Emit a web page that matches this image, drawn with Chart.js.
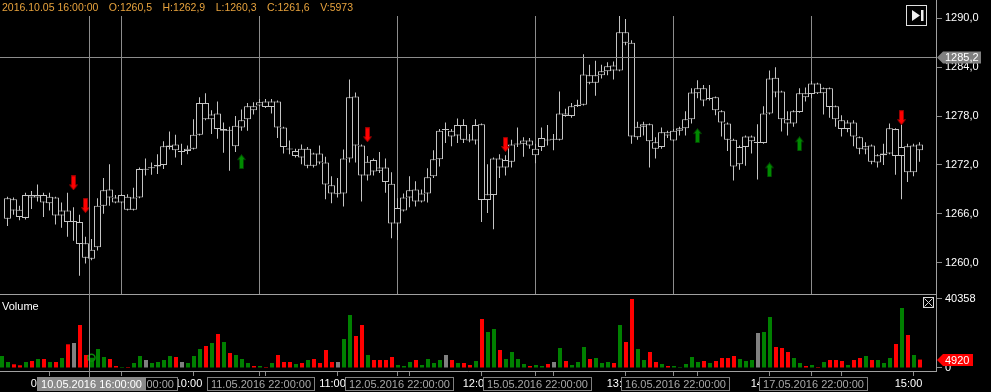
<!DOCTYPE html>
<html>
<head>
<meta charset="utf-8">
<title>Candles + volume</title>
<script src="https://cdn.jsdelivr.net/npm/chart.js@4.4.1/dist/chart.umd.min.js"></script>
<style>
  html, body { margin: 0; padding: 0; background: #000; overflow: hidden; }
  #wrap { position: relative; width: 991px; height: 392px; }
  #price-chart { position: absolute; left: 0; top: 0; }
  #volume-chart { position: absolute; left: 0; top: 284px; }
</style>
</head>
<body>
<div id="wrap">
  <canvas id="price-chart" width="991" height="301"></canvas>
  <canvas id="volume-chart" width="991" height="108"></canvas>
</div>
<script>
// ---- data (slot 0 has a volume bar but no candle) ----
const open = [null,
  1265.4, 1266.4, 1266.5, 1265.5, 1268.3, 1268.0, 1268.3, 1267.3, 1268.0, 1265.8,
  1266.4, 1265.0, 1265.0, 1262.4, 1260.5, 1261.9, 1267.0, 1269.0, 1268.0, 1267.4,
  1268.1, 1266.5, 1268.0, 1271.4, 1271.6, 1271.8, 1272.0, 1274.2, 1274.5, 1273.6,
  1273.7, 1274.0, 1275.7, 1279.6, 1277.6, 1278.3, 1276.2, 1276.3, 1274.3, 1276.6,
  1277.6, 1279.2, 1279.3, 1279.8, 1279.1, 1279.8, 1276.6, 1274.0, 1273.1, 1274.0,
  1271.9, 1273.4, 1273.4, 1272.3, 1269.5, 1268.4, 1268.5, 1272.8, 1280.4, 1274.4,
  1270.7, 1272.6, 1271.7, 1271.7, 1269.7, 1264.8, 1266.4, 1268.0, 1269.0, 1267.5,
  1268.5, 1270.6, 1272.7, 1276.3, 1276.2, 1275.6, 1276.9, 1275.1, 1275.0, 1277.0,
  1267.7, 1268.3, 1272.8, 1271.7, 1272.4, 1274.5, 1274.6, 1275.0, 1273.2, 1274.2,
  1275.1, 1275.1, 1275.1, 1278.3, 1278.0, 1279.2, 1279.4, 1283.0, 1282.1, 1283.0,
  1283.5, 1284.2, 1283.6, 1288.3, 1287.0, 1275.4, 1276.7, 1277.0, 1274.8, 1274.2,
  1276.0, 1275.0, 1276.2, 1276.5, 1277.6, 1280.8, 1281.4, 1280.1, 1280.3, 1278.6,
  1277.1, 1275.1, 1272.1, 1274.2, 1274.9, 1274.7, 1274.7, 1278.3, 1282.7, 1281.0,
  1277.6, 1277.1, 1278.5, 1280.8, 1280.7, 1282.0, 1280.8, 1281.4, 1279.2, 1277.5,
  1276.4, 1277.2, 1275.4, 1273.9, 1274.4, 1272.3, 1273.2, 1273.4, 1276.4, 1273.1,
  1274.3, 1271.1, 1274.5];
const high = [null,
  1268.1, 1268.0, 1267.0, 1268.6, 1268.8, 1269.6, 1268.6, 1268.6, 1268.1, 1267.4,
  1268.6, 1266.8, 1265.9, 1263.2, 1262.9, 1267.9, 1270.4, 1272.1, 1268.3, 1268.4,
  1268.4, 1269.2, 1271.7, 1272.8, 1272.3, 1273.3, 1274.9, 1276.1, 1275.7, 1274.6,
  1274.4, 1277.6, 1280.3, 1280.8, 1278.7, 1279.8, 1277.2, 1276.7, 1278.0, 1278.8,
  1279.6, 1279.7, 1280.1, 1280.1, 1280.1, 1279.9, 1276.7, 1275.0, 1274.0, 1274.5,
  1274.2, 1273.5, 1274.4, 1273.0, 1270.6, 1270.4, 1273.9, 1282.5, 1280.9, 1274.5,
  1273.1, 1272.8, 1273.6, 1272.8, 1271.1, 1267.9, 1268.5, 1270.6, 1270.0, 1269.0,
  1271.6, 1273.8, 1276.4, 1277.2, 1276.4, 1277.7, 1277.6, 1275.8, 1277.6, 1277.1,
  1272.1, 1272.9, 1273.3, 1273.2, 1275.1, 1276.6, 1275.4, 1275.3, 1274.6, 1276.6,
  1276.9, 1275.8, 1281.0, 1278.9, 1279.6, 1280.0, 1285.6, 1284.3, 1284.8, 1284.3,
  1284.6, 1284.7, 1290.5, 1289.9, 1287.3, 1277.3, 1277.3, 1277.1, 1275.4, 1276.6,
  1276.2, 1276.4, 1276.7, 1278.6, 1281.4, 1282.4, 1281.8, 1281.8, 1280.4, 1278.7,
  1277.2, 1275.2, 1274.4, 1275.6, 1275.6, 1277.0, 1279.2, 1283.6, 1284.0, 1281.1,
  1278.6, 1278.7, 1281.4, 1281.5, 1282.3, 1282.1, 1281.5, 1281.5, 1279.3, 1278.1,
  1277.5, 1277.5, 1275.5, 1274.8, 1274.5, 1273.3, 1274.6, 1277.1, 1276.5, 1277.0,
  1274.6, 1274.6, 1274.8];
const low = [null,
  1264.5, 1265.9, 1265.2, 1265.3, 1266.6, 1267.5, 1265.6, 1266.4, 1264.7, 1264.3,
  1263.2, 1262.7, 1258.4, 1259.9, 1260.3, 1261.5, 1266.0, 1267.0, 1267.3, 1267.3,
  1266.4, 1266.4, 1267.9, 1270.7, 1270.8, 1270.9, 1271.5, 1273.9, 1272.9, 1272.0,
  1273.3, 1273.9, 1275.6, 1277.5, 1275.8, 1275.2, 1273.5, 1271.3, 1273.6, 1276.2,
  1276.2, 1278.2, 1279.2, 1279.0, 1278.3, 1275.3, 1273.4, 1273.3, 1272.9, 1272.1,
  1271.6, 1271.7, 1272.1, 1267.8, 1267.3, 1268.0, 1266.9, 1272.3, 1272.3, 1267.5,
  1270.1, 1270.7, 1271.0, 1268.6, 1263.0, 1262.8, 1266.3, 1266.8, 1266.9, 1267.4,
  1267.4, 1270.4, 1271.8, 1274.7, 1274.3, 1274.7, 1274.7, 1274.8, 1274.5, 1265.0,
  1266.1, 1264.1, 1270.4, 1270.7, 1271.7, 1274.2, 1273.0, 1274.0, 1272.2, 1273.7,
  1274.4, 1273.8, 1275.0, 1277.9, 1277.8, 1279.1, 1279.3, 1281.9, 1280.5, 1282.6,
  1283.0, 1282.5, 1283.5, 1286.7, 1274.6, 1275.1, 1275.6, 1271.7, 1272.8, 1274.0,
  1275.3, 1274.9, 1275.6, 1275.6, 1277.1, 1280.2, 1279.2, 1279.9, 1278.1, 1275.5,
  1273.7, 1270.1, 1271.4, 1271.9, 1273.4, 1270.2, 1274.6, 1278.2, 1280.3, 1276.1,
  1275.6, 1276.7, 1278.4, 1279.8, 1280.2, 1280.7, 1278.2, 1277.8, 1276.7, 1275.5,
  1276.0, 1274.3, 1273.3, 1273.3, 1272.1, 1271.7, 1272.0, 1273.3, 1270.8, 1267.8,
  1269.9, 1270.6, 1272.4];
const close = [null,
  1267.9, 1267.8, 1265.6, 1268.3, 1268.0, 1268.3, 1267.4, 1268.1, 1265.8, 1266.4,
  1265.0, 1265.0, 1262.3, 1260.6, 1261.6, 1267.0, 1268.9, 1268.0, 1267.4, 1268.3,
  1266.5, 1268.0, 1271.5, 1271.4, 1271.7, 1272.0, 1274.3, 1274.4, 1273.8, 1273.6,
  1274.0, 1275.7, 1279.6, 1277.6, 1278.2, 1276.4, 1276.4, 1276.2, 1276.8, 1277.5,
  1279.2, 1278.7, 1279.7, 1279.1, 1279.8, 1276.6, 1274.2, 1273.9, 1273.7, 1272.9,
  1274.0, 1271.9, 1272.3, 1269.6, 1268.5, 1268.4, 1272.8, 1280.3, 1274.4, 1270.7,
  1272.4, 1271.2, 1271.3, 1269.9, 1264.8, 1266.7, 1268.0, 1268.9, 1267.5, 1268.5,
  1270.5, 1272.7, 1276.2, 1276.3, 1275.5, 1276.9, 1275.1, 1275.0, 1276.9, 1267.7,
  1268.4, 1272.8, 1271.7, 1272.6, 1274.5, 1274.6, 1275.0, 1274.4, 1274.0, 1275.3,
  1275.0, 1275.1, 1278.3, 1278.0, 1279.2, 1279.4, 1283.1, 1282.1, 1283.0, 1283.5,
  1284.1, 1283.6, 1288.3, 1287.0, 1275.5, 1276.7, 1277.0, 1274.9, 1274.0, 1276.0,
  1275.6, 1276.2, 1276.5, 1277.6, 1280.9, 1281.4, 1279.9, 1280.2, 1278.7, 1277.2,
  1275.1, 1271.8, 1274.2, 1275.5, 1275.5, 1274.7, 1278.3, 1282.6, 1280.9, 1277.6,
  1277.1, 1278.6, 1280.8, 1280.3, 1282.0, 1280.8, 1281.4, 1279.1, 1277.6, 1276.4,
  1277.2, 1275.5, 1274.0, 1274.3, 1272.4, 1273.2, 1273.4, 1276.5, 1273.1, 1274.2,
  1271.1, 1274.4, 1273.8];
const volume = [
   7020,  3510,  2160,  1580,  3510,  4100,  5270,  5270,  3510,  3510,
   5850, 13860, 14630, 25150,  7600,  5973, 11120,  6440,  5270,  1170,
    590,   590,  2930,  7020,  4680,  2930,  3510,  4680,  7020,  6440,
   3510,  2930,  7020, 11120, 12870, 14630, 19890, 15210,  8780,  7600,
   5270,  2930,  1170,  1170,   590,  2930,  7600,  3510,  3510,  2340,
   2930,  4680,  5270,  2930, 10530,  3510,  3510, 16970, 31010, 18720,
  25150,  7600,  4680,  4680,  4680,  6440,  1760,  1170,  3510,  4680,
   1760,  5270,  2930,  4680,  7600,  4680,  2930,  2930,  1760,  4100,
  28670, 21060, 22820, 10530,  5270,  9360,  5270,  2340,  1170,  1760,
   1170,  2340,  3510, 11700,  4100,  1760,  3510, 12290,  5270,  5850,
   2930,  3510,  2930, 25150, 15210, 40358, 11120,  4680,  9360,  3510,
   2340,  1170,  1170,   590,  2340,  6440,  3510,  4100,  2930,  4100,
   5850,  5850,  7020,  5270,  4100,  4680, 20480, 21060, 29840, 12290,
  11700,  9360,  5850,  2930,  1170,  1760,   590,  3510,  4680,  4680,
   4100,  1760,  4680,  5850,  7020,  4680,  4680,  2930,  5850, 14040,
  35100, 19310,  7600,  4920];
// u = up bar, d = down bar, n = unchanged
const volDir = ('uuddududud' + 'udndduuudd' + 'uduunuuuud' + 'nuuudududu' + 'uudududddu' +
                'duddddnuud' + 'dudddduuud' + 'uuuunduddu' + 'duuduuuudu' + 'udnuduuudu' +
                'uududduudd' + 'uduuuuudud' + 'ddduuunuud' + 'dduudududd' + 'dudduduuud' + 'udud').split('');

const priceTicks = [1260, 1266, 1272, 1278, 1284, 1290];
const volTicks = [0, 40358];
const hourIdx = [8, 32, 56, 80, 104, 128, 152];
const hourLabels = ['09:00', '10:00', '11:00', '12:00', '13:00', '14:00', '15:00'];
const dayIdx = [20, 43, 66, 89, 112, 135];
const dayLabels = ['10.05.2016 22:00:00', '11.05.2016 22:00:00', '12.05.2016 22:00:00',
                   '15.05.2016 22:00:00', '16.05.2016 22:00:00', '17.05.2016 22:00:00'];
const minorIdx = [44, 68, 92, 116, 140];
const sellIdx = [12, 14, 61, 84, 150];
const sellPrice = [1269.8, 1267.0, 1275.7, 1274.5, 1277.8];
const buyIdx = [40, 116, 128, 133];
const buyPrice = [1272.4, 1275.6, 1271.4, 1274.6];

const cursorIdx = 14.67;      // crosshair position, in candle slots
const cursorCandle = 15;
const cursorPrice = 1285.2;
const cursorStamp = '2016.10.05 16:00:00';
const cursorLabel = '10.05.2016 16:00:00';

// ---- axis ranges (slot i lands on pixel column 1 + 6i) ----
const X_MIN = -0.25, X_MAX = 155.75;
const XV_MIN = -1 / 3, XV_MAX = 156 - 1 / 3;
const P_MIN = 1256.16, P_MAX = 1290.28;
const V_MIN = -1755, V_MAX = 43282;

const FONT = "'Liberation Sans', Arial, sans-serif";
const CANDLE = '#c4c4c4';
const GRID = '#8c8c8c';
const AXIS = '#a0a0a0';
const HEAD = '#e8a33d';
const UP = '#008000', DOWN = '#ff0000', FLAT = '#808080';

Chart.defaults.font.family = FONT;
Chart.defaults.font.size = 11;
Chart.defaults.color = '#ffffff';

const fmtPrice = v => v.toFixed(1).replace('.', ',');

function line(ctx, x1, y1, x2, y2) {
  ctx.beginPath(); ctx.moveTo(x1, y1); ctx.lineTo(x2, y2); ctx.stroke();
}

// price/volume marker on the right axis
function tag(ctx, x0, yc, w, text, fill) {
  ctx.beginPath();
  ctx.moveTo(x0, yc);
  ctx.lineTo(x0 + 6, yc - 6);
  ctx.lineTo(x0 + w, yc - 6);
  ctx.lineTo(x0 + w, yc + 6);
  ctx.lineTo(x0 + 6, yc + 6);
  ctx.closePath();
  ctx.fillStyle = fill; ctx.fill();
  ctx.fillStyle = '#fff';
  ctx.font = '11px ' + FONT;
  ctx.textAlign = 'left'; ctx.textBaseline = 'middle';
  ctx.fillText(text, x0 + 8, yc + 0.5);
}

// boxed date label on the time axis
function dateBox(ctx, cx, top, text, fill, edge, color) {
  const w = Math.round(ctx.measureText(text).width) + 7;
  const left = Math.round(cx - w / 2) + 0.5;
  ctx.fillStyle = fill; ctx.fillRect(left, top + 0.5, w, 13);
  ctx.strokeStyle = edge; ctx.strokeRect(left, top + 0.5, w, 13);
  ctx.fillStyle = color; ctx.fillText(text, left + w / 2, top + 7.5);
}

function arrowImage(fill, edge, down) {
  const c = document.createElement('canvas');
  c.width = 9; c.height = 15;
  const g = c.getContext('2d');
  if (!down) { g.translate(0, 15); g.scale(1, -1); }
  g.beginPath();
  g.moveTo(2.5, 0.5); g.lineTo(6.5, 0.5); g.lineTo(6.5, 9.5); g.lineTo(8.5, 9.5);
  g.lineTo(4.5, 14.5); g.lineTo(0.5, 9.5); g.lineTo(2.5, 9.5); g.closePath();
  g.fillStyle = fill; g.fill();
  g.strokeStyle = edge; g.lineWidth = 1; g.stroke();
  return c;
}

const fixWidth = w => s => { s.width = w; s.paddingTop = 0; s.paddingBottom = 0; };
const fixHeight = h => s => { s.height = h; s.paddingLeft = 0; s.paddingRight = 0; };

const priceOverlay = {
  id: 'priceOverlay',
  afterDraw(chart) {
    const { ctx, chartArea: a, scales: { x, y } } = chart;
    ctx.save();
    ctx.lineWidth = 1;
    ctx.strokeStyle = AXIS;
    line(ctx, a.right + 0.5, 0, a.right + 0.5, a.top);

    const cx = Math.floor(x.getPixelForValue(cursorIdx)) + 0.5;
    const cy = Math.floor(y.getPixelForValue(cursorPrice)) + 0.5;
    ctx.strokeStyle = GRID;
    line(ctx, a.left, cy, a.right, cy);
    line(ctx, cx, a.top, cx, a.bottom);
    tag(ctx, a.right + 1, cy, 44, fmtPrice(cursorPrice), '#808080');

    // OHLC header of the candle under the cursor
    const c = cursorCandle;
    const parts = [cursorStamp, 'O:' + fmtPrice(open[c]), 'H:' + fmtPrice(high[c]),
                   'L:' + fmtPrice(low[c]), 'C:' + fmtPrice(close[c]), 'V:' + volume[c]];
    ctx.font = '10.5px ' + FONT;
    ctx.fillStyle = HEAD;
    ctx.textAlign = 'left'; ctx.textBaseline = 'alphabetic';
    let tx = 2;
    parts.forEach(p => { ctx.fillText(p, tx, 11); tx += ctx.measureText(p).width + 10.5; });

    // "scroll to end" button
    const bx = a.right - 29.5;
    ctx.fillStyle = '#000'; ctx.fillRect(bx, 5.5, 20, 20);
    ctx.strokeStyle = '#e0e0e0'; ctx.strokeRect(bx, 5.5, 20, 20);
    ctx.fillStyle = '#f0f0f0';
    ctx.beginPath();
    ctx.moveTo(bx + 5.5, 10); ctx.lineTo(bx + 5.5, 21); ctx.lineTo(bx + 13.5, 15.5); ctx.closePath();
    ctx.fill();
    ctx.fillRect(bx + 14.5, 10, 2.5, 11);
    ctx.restore();
  }
};

const volumeOverlay = {
  id: 'volumeOverlay',
  afterDraw(chart) {
    const { ctx, chartArea: a, scales: { x, y } } = chart;
    ctx.save();
    ctx.lineWidth = 1;
    ctx.strokeStyle = AXIS;
    line(ctx, a.left, a.top + 0.5, a.right, a.top + 0.5);

    const cx = Math.floor(x.getPixelForValue(cursorIdx)) + 0.5;
    ctx.strokeStyle = GRID;
    line(ctx, cx, a.top, cx, a.bottom + 6);

    ctx.font = '11px ' + FONT;
    ctx.fillStyle = '#fff';
    ctx.textAlign = 'left'; ctx.textBaseline = 'alphabetic';
    ctx.fillText('Volume', 2, a.top + 15.5);

    // close icon
    const ix = a.right - 12.5, iy = a.top + 3.5;
    ctx.strokeStyle = '#d8d8d8';
    ctx.strokeRect(ix, iy, 10, 10);
    line(ctx, ix + 1, iy + 1, ix + 9, iy + 9);
    line(ctx, ix + 9, iy + 1, ix + 1, iy + 9);

    const last = volume.length - 1;
    tag(ctx, a.right + 1, Math.round(y.getPixelForValue(volume[last])), 36, String(volume[last]), '#ff0000');

    ctx.font = '11px ' + FONT;
    ctx.textAlign = 'center'; ctx.textBaseline = 'middle';
    const by = a.bottom + 6;
    dayIdx.forEach((d, k) => dateBox(ctx, x.getPixelForValue(d) + 1, by, dayLabels[k], '#000', '#808080', '#a8a8a8'));
    dateBox(ctx, cx + 1, by, cursorLabel, '#8a8a8a', '#8a8a8a', '#ffffff');
    ctx.restore();
  }
};

// ---- price panel ----
const slots = open.map((_, i) => i).filter(i => open[i] !== null);
const bodyData = slots.map(i => ({ x: i, y: [Math.min(open[i], close[i]), Math.max(open[i], close[i])] }));
const wickData = slots.map(i => ({ x: i, y: [low[i], high[i]] }));

new Chart(document.getElementById('price-chart'), {
  type: 'bar',
  data: {
    datasets: [
      { type: 'line', label: 'Sell', data: sellIdx.map((x, k) => ({ x, y: sellPrice[k] })),
        showLine: false, pointStyle: arrowImage('#ff0000', '#9a0000', true), pointRadius: 4, order: 0 },
      { type: 'line', label: 'Buy', data: buyIdx.map((x, k) => ({ x, y: buyPrice[k] })),
        showLine: false, pointStyle: arrowImage('#008a00', '#004000', false), pointRadius: 4, order: 0 },
      { label: 'Body', data: bodyData, backgroundColor: '#000', borderColor: CANDLE, borderWidth: 1,
        borderSkipped: false, barThickness: 7, minBarLength: 1, grouped: false, inflateAmount: 0, order: 1 },
      { label: 'Wick', data: wickData, backgroundColor: CANDLE, borderWidth: 0,
        barThickness: 1, grouped: false, inflateAmount: 0, order: 2 }
    ]
  },
  options: {
    responsive: false, animation: false, events: [],
    layout: { autoPadding: false, padding: { top: 16, left: 0, right: 0, bottom: 0 } },
    plugins: { legend: { display: false }, tooltip: { enabled: false } },
    scales: {
      x: {
        type: 'linear', min: X_MIN, max: X_MAX, offset: false,
        grid: { offset: false, color: GRID, drawTicks: false },
        border: { display: false },
        ticks: { display: false },
        afterBuildTicks: s => { s.ticks = dayIdx.map(v => ({ value: v })); },
        afterFit: fixHeight(7)
      },
      y: {
        position: 'right', min: P_MIN, max: P_MAX, beginAtZero: false,
        grid: { drawOnChartArea: false, color: GRID, tickLength: 6 },
        border: { color: AXIS },
        ticks: { color: '#fff', padding: 3, callback: v => fmtPrice(v) },
        afterBuildTicks: s => { s.ticks = priceTicks.map(v => ({ value: v })); },
        afterFit: fixWidth(55)
      }
    }
  },
  plugins: [priceOverlay]
});

// ---- volume panel + time axis ----
new Chart(document.getElementById('volume-chart'), {
  type: 'bar',
  data: {
    datasets: [
      { type: 'line', label: 'Cursor', data: [{ x: cursorCandle, y: volume[cursorCandle] }],
        showLine: false, pointStyle: 'circle', pointRadius: 3.5, borderWidth: 1.5,
        borderColor: '#0a8a0a', backgroundColor: 'rgba(0,0,0,0)', order: 0 },
      { label: 'Volume', data: volume.map((v, i) => ({ x: i, y: v })), xAxisID: 'xv',
        backgroundColor: volDir.map(d => d === 'u' ? UP : d === 'd' ? DOWN : FLAT),
        barThickness: 4, borderWidth: 0, grouped: false, inflateAmount: 0, order: 1 }
    ]
  },
  options: {
    responsive: false, animation: false, events: [],
    layout: { autoPadding: false, padding: { top: 10, left: 0, right: 0, bottom: 0 } },
    plugins: { legend: { display: false }, tooltip: { enabled: false } },
    scales: {
      x: {
        type: 'linear', position: 'bottom', min: X_MIN, max: X_MAX, offset: false,
        grid: { offset: false, drawOnChartArea: false, color: GRID, tickLength: 5 },
        border: { color: AXIS },
        ticks: {
          color: '#fff', autoSkip: false, maxRotation: 0, minRotation: 0, padding: 1, labelOffset: -5,
          callback: v => { const k = hourIdx.indexOf(v); return k < 0 ? '' : hourLabels[k]; }
        },
        afterBuildTicks: s => {
          s.ticks = [...hourIdx, ...dayIdx, ...minorIdx].sort((a, b) => a - b).map(v => ({ value: v }));
        },
        afterFit: fixHeight(21)
      },
      xv: { type: 'linear', display: false, min: XV_MIN, max: XV_MAX, offset: false },
      y: {
        position: 'right', min: V_MIN, max: V_MAX, beginAtZero: false,
        grid: { drawOnChartArea: false, color: GRID, tickLength: 6 },
        border: { color: AXIS },
        ticks: { color: '#fff', padding: 3, callback: v => String(v) },
        afterBuildTicks: s => { s.ticks = volTicks.map(v => ({ value: v })); },
        afterFit: fixWidth(55)
      }
    }
  },
  plugins: [volumeOverlay]
});
</script>
</body>
</html>
